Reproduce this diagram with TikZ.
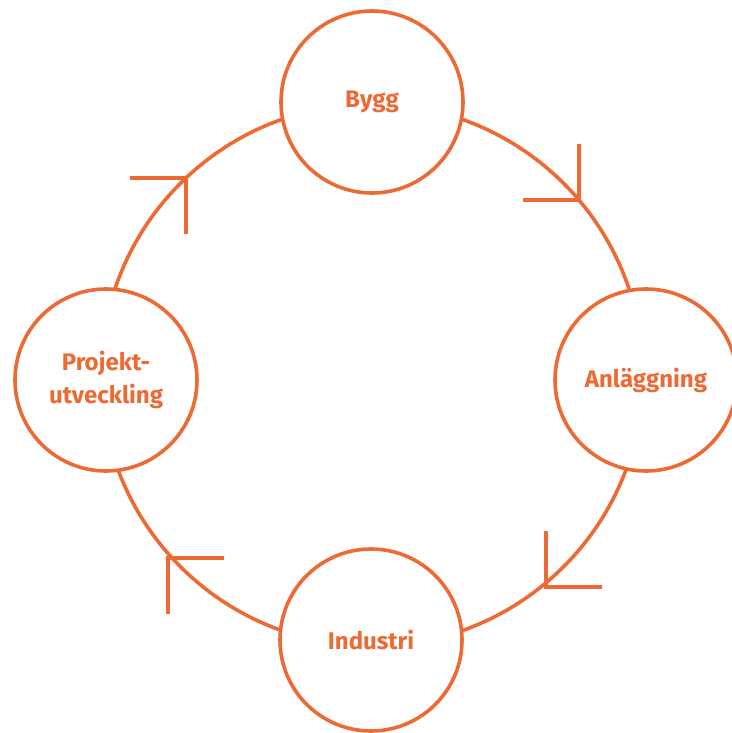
\documentclass[tikz,border=0pt]{standalone}
\usepackage{fontspec}
\setmainfont{Fira Sans}
\definecolor{orng}{RGB}{237,106,52}
\begin{document}
\begin{tikzpicture}[x=1pt,y=-1pt,
  stage/.style={circle,draw=orng,fill=white,line width=3.6pt,minimum size=182pt,inner sep=0pt,
    text=orng,font=\fontsize{24}{33}\selectfont\bfseries,align=center},
  ring/.style={draw=orng,line width=3.6pt},
  tip/.style={draw=orng,line width=3.6pt}]
\useasboundingbox (0,0) rectangle (731,733);
\draw[ring] (372,375) circle [radius=271];
\node[stage] (bygg) at (372,102) {Bygg};
\node[stage] (anl) at (646,380) {Anläggning};
\node[stage] (ind) at (371,640) {Industri};
\node[stage] (proj) at (106,380) {Projekt-\\utveckling};
\coordinate (t1) at (579,200);
\coordinate (t2) at (546,587);
\coordinate (t3) at (168,558);
\coordinate (t4) at (186,178);
\draw[tip] ([xshift=-56]t1) -- (t1) -- ([yshift=56]t1);
\draw[tip] ([xshift=56]t2) -- (t2) -- ([yshift=56]t2);
\draw[tip] ([xshift=56]t3) -- (t3) -- ([yshift=-56]t3);
\draw[tip] ([xshift=-56]t4) -- (t4) -- ([yshift=-56]t4);
\end{tikzpicture}
\end{document}
